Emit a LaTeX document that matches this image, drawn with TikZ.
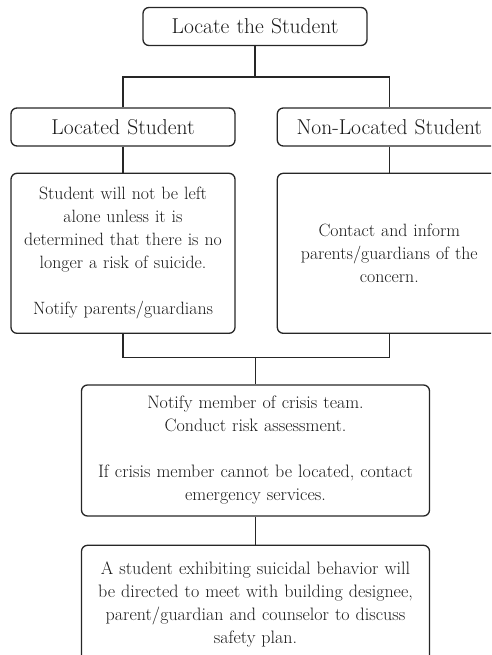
\documentclass[tikz,border=0pt]{standalone}
\usepackage{tikz}
\usetikzlibrary{positioning,calc}

\begin{document}
\begin{tikzpicture}[x=1pt,y=1pt,line width=1.3pt,
    box/.style={draw=black!85,rounded corners=6pt,align=center,text=black!90,
      inner sep=4pt,text width=216pt,minimum height=38pt,font=\fontsize{21.5}{23}\selectfont},
    tallbox/.style={box,minimum height=160pt,font=\fontsize{17.8}{23}\selectfont},
    widebox/.style={box,text width=340pt,font=\fontsize{18}{23}\selectfont}]
    \useasboundingbox (0,0) rectangle (491,-655);
    \clip (0,0) rectangle (491,-655);

    \node[box]            (locate) at (255,-26.5) {Locate the Student};
    \node[box]            (located) at (123,-127) {Located Student};
    \node[box]            (nonlocated) [right=41pt of located] {Non-Located Student};
    \node[tallbox]        (locdetail) [below=26pt of located]
      {Student will not be left\\ alone unless it is\\ determined that there is no\\ longer a risk of suicide.\\[23pt] Notify parents/guardians};
    \node[tallbox]        (nonlocdetail) [below=26pt of nonlocated]
      {Contact and inform\\ parents/guardians of the\\ concern.};
    \node[widebox, minimum height=131pt] (crisis) at (255.5,-450.5)
      {Notify member of crisis team.\\ Conduct risk assessment.\\[23pt] If crisis member cannot be located, contact\\ emergency services.};
    \node[widebox, minimum height=118pt] (plan) [below=28pt of crisis]
      {A student exhibiting suicidal behavior will\\ be directed to meet with building designee,\\ parent/guardian and counselor to discuss\\ safety plan.};

    \coordinate (split) at ($(locate.south)+(0,-31)$);
    \coordinate (merge) at ($(crisis.north)+(0,27)$);

    \draw[draw=black!85]
    (locate.south) -- (split)
    (located.north) |- (split) -| (nonlocated.north)
    (located.south) -- (locdetail.north)
    (nonlocated.south) -- (nonlocdetail.north)
    (locdetail.south) |- (merge) -| (nonlocdetail.south)
    (merge) -- (crisis.north)
    (crisis.south) -- (plan.north)
    ;
\end{tikzpicture}
\end{document}
